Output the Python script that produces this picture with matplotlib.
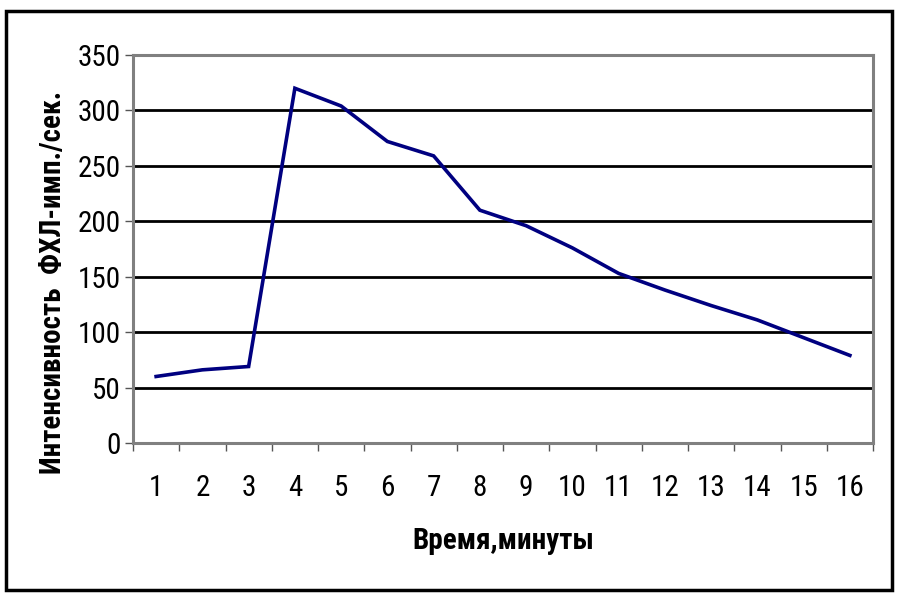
import matplotlib
matplotlib.use("Agg")
import matplotlib.pyplot as plt
from matplotlib.patches import Rectangle
import numpy as np

minutes = list(range(1, 17))
intensity = [60, 66, 69, 320, 304, 272, 259, 210, 196, 176, 153, 138, 124, 111, 95, 79]
yticks = [0, 50, 100, 150, 200, 250, 300, 350]
xlabel = "Время,минуты"
ylabel = "Интенсивность  ФХЛ-имп./сек."

plt.rcParams['font.family'] = ['Roboto Condensed', 'DejaVu Sans']

W, H = 899, 599
fig = plt.figure(figsize=(W / 100, H / 100), dpi=100)
ax = fig.add_axes([133 / W, 1 - 443 / H, (873 - 133) / W, (443 - 55) / H])

ax.plot(minutes, intensity, color='#000080', lw=2.6, zorder=3, solid_joinstyle='miter')

ax.set_ylim(0, 350)
ax.set_xlim(0.5, 16.5)
ax.set_yticks(yticks)
ax.set_yticklabels([str(v) for v in yticks], fontsize=21)
for v in yticks[1:-1]:
    ax.axhline(v, color='black', lw=2.0, zorder=2)

ax.set_xticks(minutes)
ax.set_xticklabels([str(m) for m in minutes], fontsize=21)
ax.tick_params(axis='x', which='major', length=0, pad=22)
ax.set_xticks(np.arange(0.5, 17, 1.0), minor=True)
ax.tick_params(axis='x', which='minor', length=6, color='#555555', width=1, direction='out')
ax.tick_params(axis='y', length=6, color='#555555', width=1, direction='out', pad=3)

for s in ax.spines.values():
    s.set_color('#808080')
    s.set_linewidth(2.2)

ax.set_xlabel(xlabel, fontsize=21, fontweight='bold', labelpad=18)
ax.set_ylabel(ylabel, fontsize=21, fontweight='bold')
ax.yaxis.set_label_coords(-0.089, 0.415)

fig.patches.append(Rectangle((6 / W, 1 - 590 / H), (892 - 6) / W, (590 - 11) / H,
                             transform=fig.transFigure, fill=False,
                             edgecolor='black', lw=2.5))

fig.savefig("out.png", dpi=100)
